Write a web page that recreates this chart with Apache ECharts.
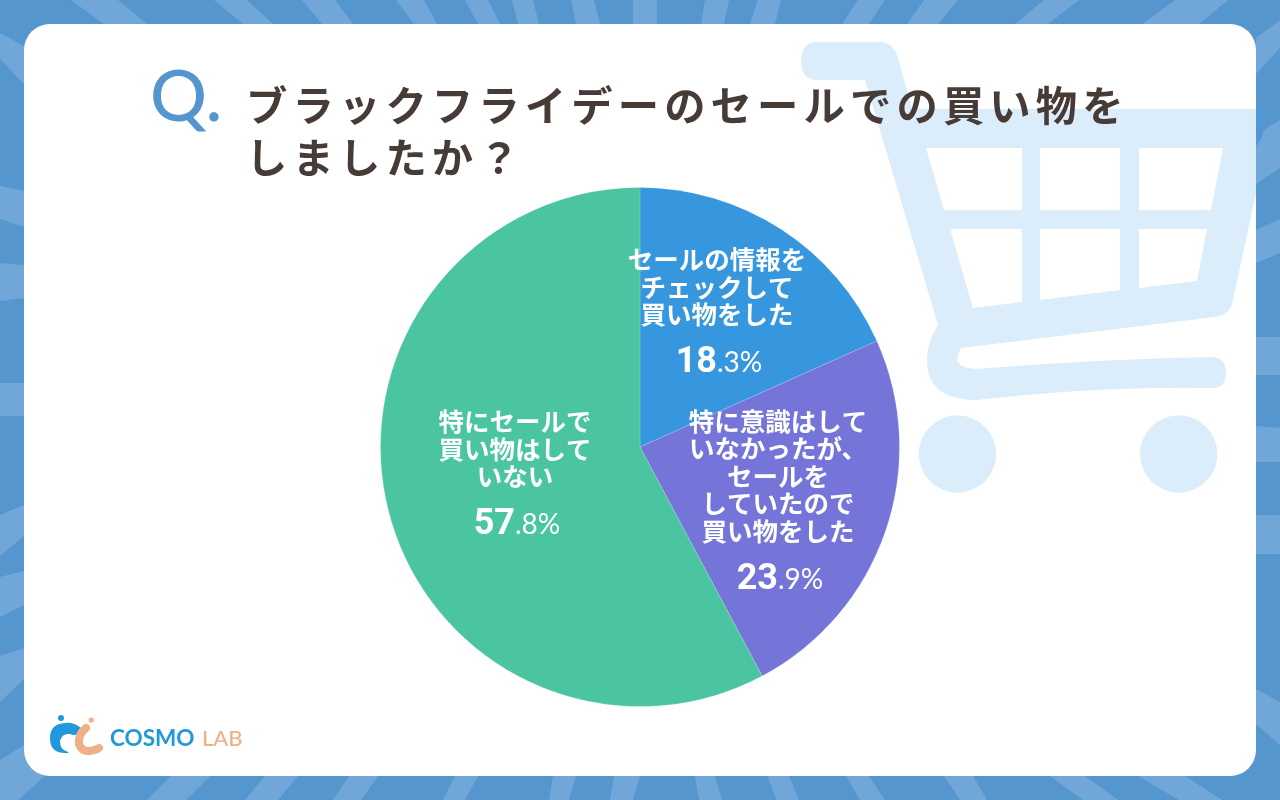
<!DOCTYPE html>
<html>
<head>
    <meta charset="utf-8" />
    <title>ブラックフライデーのセールでの買い物</title>
    <script src="https://cdn.jsdelivr.net/npm/echarts@6/dist/echarts.min.js"></script>
    <style>
        html, body { margin: 0; padding: 0; background: #5596cf; }
        #main { width: 1280px; height: 800px; }
    </style>
</head>
<body>
<div id="main"></div>
<script type="text/javascript">
    // data
    var categories = [
        'セールの情報を\nチェックして\n買い物をした',
        '特に意識はして\nいなかったが、\nセールを\nしていたので\n買い物をした',
        '特にセールで\n買い物はして\nいない'
    ];
    var shares = [18.3, 23.9, 57.8];
    var titleLines = ['ブラックフライデーのセールでの買い物を', 'しましたか？'];

    // layout and colours
    var sliceColors = ['#3697de', '#7474d9', '#4bc4a1'];
    var labelCenters = [[717, 315], [778, 504], [515, 477]];
    var cartColor = '#dbedfa';
    var hairSpace = '\u200a\u200a';

    // background rays, each one [x0,y0, x1,y1, x2,y2, x3,y3] around the card
    var rays = [
        [71,0, 118,0, 147,24, 104,24], [214,0, 247,0, 273,24, 243,24], [302,0, 335,0, 353,24, 322,24],
        [396,0, 424,0, 437,24, 414,24], [465,0, 488,0, 500,24, 478,24], [512,0, 533,0, 539,24, 518,24],
        [571,0, 594,0, 600,24, 576,24], [633,0, 657,0, 657,24, 633,24], [705,0, 729,0, 724,24, 701,24],
        [758,0, 781,0, 775,24, 750,24], [858,0, 885,0, 869,24, 842,24], [924,0, 958,0, 938,24, 907,24],
        [1044,0, 1079,0, 1048,24, 1015,24], [1175,0, 1228,0, 1199,24, 1142,24],
        [1280,20, 1280,48, 1256,74, 1256,38], [1280,120, 1280,168, 1256,184, 1256,135], [1280,219, 1280,253, 1256,263, 1256,230],
        [1280,337, 1280,375, 1256,375, 1256,337], [1280,428, 1280,462, 1256,462, 1256,426], [1280,515, 1280,554, 1256,554, 1256,515],
        [1280,702, 1280,745, 1256,724, 1256,689],
        [695,776, 715,776, 722,800, 699,800], [767,776, 789,776, 799,800, 777,800], [846,776, 869,776, 885,800, 860,800],
        [944,776, 973,776, 987,800, 960,800], [1050,776, 1085,776, 1118,800, 1083,800], [1138,776, 1185,776, 1222,800, 1179,800],
        [171,776, 210,776, 186,800, 147,800], [265,776, 298,776, 278,800, 245,800], [349,776, 378,776, 361,800, 333,800],
        [455,776, 478,776, 465,800, 443,800], [553,776, 576,776, 569,800, 549,800], [614,776, 640,776, 633,800, 610,800],
        [0,33, 0,59, 24,84, 24,46], [0,186, 0,219, 24,227, 24,191], [0,263, 0,301, 24,298, 24,265],
        [0,383, 0,416, 24,416, 24,383], [0,515, 0,556, 24,536, 24,505], [0,577, 0,617, 24,605, 24,571],
        [0,656, 0,702, 24,679, 24,648], [0,760, 0,800, 18,800, 45,776, 24,745]
    ];

    // white openings of the cart basket
    var cartHoles = [
        [926,148, 1022,148, 1022,210, 944,210], [1040,148, 1120,148, 1120,210, 1040,210], [1139,148, 1223,148, 1211,210, 1139,210],
        [950,229, 1022,229, 1022,302, 973,308], [1040,229, 1120,229, 1120,290, 1040,300], [1139,229, 1207,229, 1197,281, 1139,288]
    ];

    // svg outlines for the decoration, registered so that graphic can use them
    var outlines = {
        cartEdge: 'M1256 109 Q1264 112 1264 127 Q1263 140 1256 146 Z',
        cartBody: 'M815 42 L882 42 Q894 44 898 58 L912 109 L1256 109 L1256 193 L1233 300 Q1230 315 1215 317 L961 348 Q956 358 958 362 Q962 369 977 369 Q1100 359 1212 357 Q1226 358 1226 373 Q1226 388 1212 388 Q1100 386 977 400 Q927 400 927 360 Q927 342 938 325 L865 80 L815 80 Q801 78 801 61 Q801 44 815 42 Z',
        logoBlue: 'M65 723 Q74 722 81 728 Q84 732 79 734 Q74 736 70 734 Q62 733 60 741 Q60 749 66 751 Q72 753 65 753 Q50 753 50 738 Q50 724 65 723 Z',
        logoTail: 'M86 728 Q78 734 79 744 Q82 752 90 751 Q96 750 99 748'
    };
    Object.keys(outlines).forEach(function (name) {
        echarts.graphic.registerShape(name, echarts.graphic.extendPath(outlines[name]));
    });

    function toPoints(list) {
        var pts = [];
        for (var i = 0; i < list.length; i += 2) pts.push([list[i], list[i + 1]]);
        return pts;
    }
    function spaced(text) {
        return text.split('').join(hairSpace);
    }

    var graphics = [];
    rays.forEach(function (r) {
        graphics.push({ type: 'polygon', shape: { points: toPoints(r) }, style: { fill: '#70a7d8' }, silent: true });
    });
    // small bit of the cart that runs past the card
    graphics.push({ type: 'cartEdge', style: { fill: '#4f98d6' }, silent: true });
    graphics.push({ type: 'rect', shape: { x: 24, y: 24, width: 1232, height: 752, r: 26 }, style: { fill: '#ffffff' }, silent: true });

    // cart
    graphics.push({ type: 'cartBody', style: { fill: cartColor }, silent: true });
    cartHoles.forEach(function (h) {
        graphics.push({ type: 'polygon', shape: { points: toPoints(h) }, style: { fill: '#ffffff' }, silent: true });
    });
    graphics.push({ type: 'circle', shape: { cx: 957.5, cy: 454, r: 38.7 }, style: { fill: cartColor }, silent: true });
    graphics.push({ type: 'circle', shape: { cx: 1178.7, cy: 454, r: 38.7 }, style: { fill: cartColor }, silent: true });

    // Q. mark
    graphics.push({
        type: 'text', x: 150, y: 63,
        style: { text: 'Q.', fill: '#5596cf', font: '500 71px Lato, Inter, sans-serif' }, silent: true
    });

    // logo
    graphics.push({ type: 'circle', shape: { cx: 61, cy: 718, r: 3 }, style: { fill: '#2098d9' }, silent: true });
    graphics.push({ type: 'circle', shape: { cx: 91.3, cy: 720, r: 2.6 }, style: { fill: '#efb088' }, silent: true });
    graphics.push({ type: 'logoBlue', style: { fill: '#2098d9' }, silent: true });
    graphics.push({ type: 'logoTail', style: { fill: 'none', stroke: '#efb088', lineWidth: 8, lineCap: 'round' }, silent: true });
    graphics.push({
        type: 'text', x: 110, y: 727,
        style: { text: 'COSMO', fill: '#2098d9', font: '700 22.5px Lato, Inter, sans-serif' }, silent: true
    });
    graphics.push({
        type: 'text', x: 202, y: 728,
        style: { text: 'LAB', fill: '#efb088', font: '500 22px Lato, Inter, sans-serif' }, silent: true
    });

    var myChart = echarts.init(document.getElementById('main'), null, { renderer: 'canvas' });

    var pieData = categories.map(function (name, idx) {
        return { name: name, value: shares[idx], itemStyle: { color: sliceColors[idx] } };
    });

    var option = {
        animation: false,
        backgroundColor: '#5596cf',
        graphic: { elements: graphics },
        title: {
            text: titleLines.map(spaced).join('\n'),
            left: 241,
            top: 74,
            textStyle: {
                color: '#473b38',
                fontFamily: '"Noto Sans CJK JP"',
                fontWeight: 700,
                fontSize: 41.3,
                lineHeight: 52
            }
        },
        series: [
            {
                type: 'pie',
                center: [640, 447],
                radius: [0, 259.5],
                startAngle: 90,
                clockwise: true,
                silent: true,
                data: pieData,
                itemStyle: { borderColor: 'rgba(255,255,255,0.3)', borderWidth: 0.5 },
                labelLine: { show: false },
                label: {
                    show: true,
                    position: 'inside',
                    formatter: function (p) {
                        var parts = p.value.toFixed(1).split('.');
                        var lines = p.name.split('\n').map(function (s) { return '{t|' + s + '}'; });
                        lines.push('{n|' + parts[0] + '}{d|.' + parts[1] + '%}');
                        return lines.join('\n');
                    },
                    rich: {
                        t: { color: '#fff', fontFamily: '"Noto Sans CJK JP"', fontWeight: 700, fontSize: 25.5, lineHeight: 27.5 },
                        n: { color: '#fff', fontFamily: 'Roboto', fontWeight: 700, fontSize: 36, lineHeight: 56, padding: [14, 0, 0, 4] },
                        d: { color: '#fff', fontFamily: 'Lato, Roboto', fontWeight: 400, fontSize: 28, lineHeight: 56, padding: [14, 0, 0, 0] }
                    }
                },
                labelLayout: function (params) {
                    var c = labelCenters[params.dataIndex];
                    return { x: c[0], y: c[1], align: 'center', verticalAlign: 'middle' };
                }
            }
        ]
    };
    myChart.setOption(option);
</script>
</body>
</html>
